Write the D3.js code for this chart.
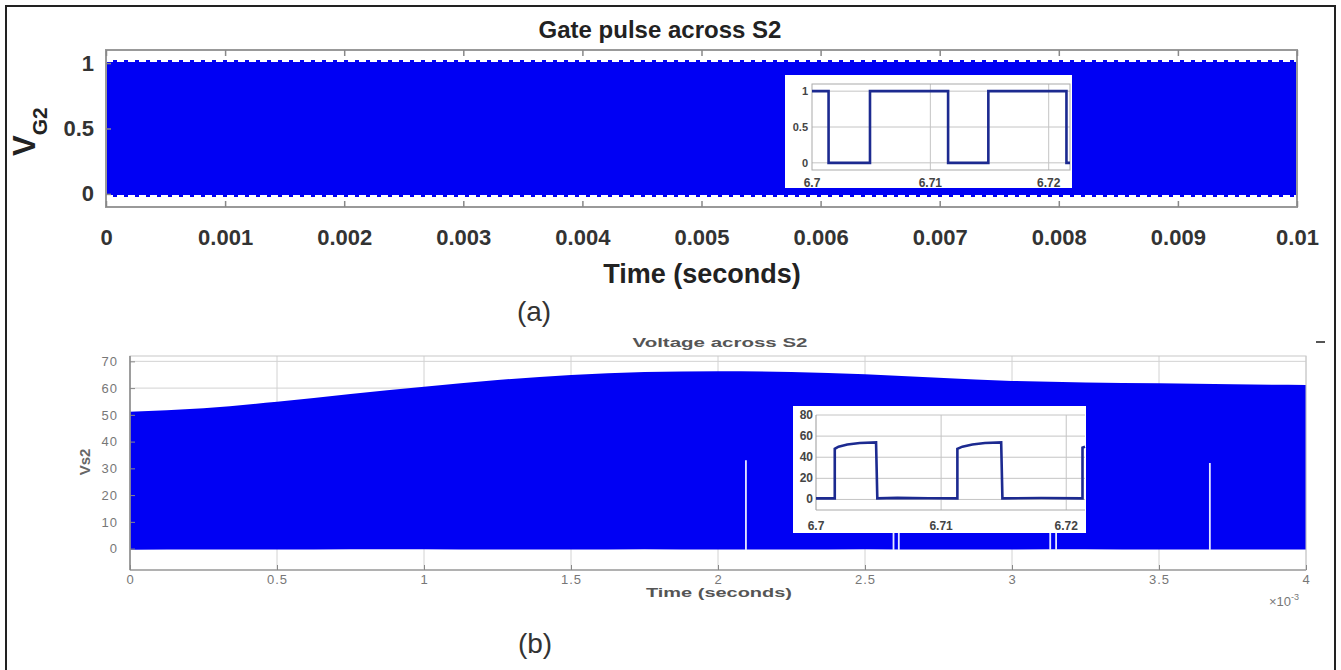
<!DOCTYPE html>
<html>
<head>
<meta charset="utf-8">
<script src="https://cdn.jsdelivr.net/npm/d3@7"></script>
<style>
  body { margin: 0; background: #fff; }
  svg { display: block; }
  text { font-family: "Liberation Sans", Arial, sans-serif; }
</style>
</head>
<body>
<div id="chart"></div>
<script>
// ---- panel (a): gate pulse across S2 ----
const gateTime = [0, 0.01];
const gateHigh = [1, 1];
const gateLow = [0, 0];
const gateXTicks = [0, 0.001, 0.002, 0.003, 0.004, 0.005, 0.006, 0.007, 0.008, 0.009, 0.01];
const gateYTicks = [0, 0.5, 1];

// zoomed gate pulse (inset a), step levels
const zoomGateT = [6.7, 6.7014, 6.7049, 6.7115, 6.7149, 6.7215, 6.7218];
const zoomGateV = [1, 0, 1, 0, 1, 0, 0];
const zoomGateXTicks = [6.7, 6.71, 6.72];
const zoomGateYTicks = [0, 0.5, 1];

// ---- panel (b): voltage across S2 (x10^-3 s) ----
const vsTime = [0, 0.25, 0.5, 0.75, 1.0, 1.25, 1.5, 1.75, 2.0, 2.25, 2.5, 2.75, 3.0, 3.25, 3.5, 3.75, 4.0];
const vsUpper = [51.2, 52.5, 54.9, 57.8, 60.5, 63.0, 64.9, 66.0, 66.3, 66.0, 65.2, 63.9, 62.7, 62.1, 61.8, 61.4, 61.2];
const vsLower = [-0.4, -0.3, -0.3, -0.2, -0.2, -0.3, -0.3, -0.2, -0.3, -0.3, -0.2, -0.3, -0.3, -0.2, -0.3, -0.3, -0.3];
const vsGapT = [2.095, 2.597, 2.615, 3.13, 3.15, 3.673];
const vsGapTop = [33, 20, 20, 20, 20, 32];
const vsXTicks = [0, 0.5, 1, 1.5, 2, 2.5, 3, 3.5, 4];
const vsYTicks = [0, 10, 20, 30, 40, 50, 60, 70];

// zoomed voltage (inset b)
const zoomVsT = [6.7, 6.7015, 6.7015, 6.7018, 6.7025, 6.7035, 6.7048, 6.7049, 6.7065, 6.709, 6.7113,
                 6.7113, 6.7117, 6.7125, 6.7135, 6.7148, 6.7149, 6.718, 6.7213, 6.7213, 6.7215];
const zoomVsV = [1, 1, 48, 50, 52, 53.5, 54, 1, 1.5, 1.2, 1,
                 48, 50, 52, 53.5, 54, 1, 1.3, 1, 49, 50];
const zoomVsXTicks = [6.7, 6.71, 6.72];
const zoomVsYTicks = [0, 20, 40, 60, 80];

const BLUE = "#0000f4";
const NAVY = "#1c2a90";

const svg = d3.select("#chart").append("svg")
    .attr("width", 1341)
    .attr("height", 670);

svg.append("rect")
    .attr("x", 6).attr("y", 6)
    .attr("width", 1329).attr("height", 680)
    .attr("fill", "none")
    .attr("stroke", "#222")
    .attr("stroke-width", 2);

// ================= panel (a) =================
const ax = d3.scaleLinear().domain([0, 0.01]).range([106, 1297]);
const ay = d3.scaleLinear().domain([-0.1, 1.1]).range([207, 50]);
const gateRows = gateTime.map((t, i) => ({ t, hi: gateHigh[i], lo: gateLow[i] }));

const pa = svg.append("g");

pa.append("path")
    .datum(gateRows)
    .attr("fill", BLUE)
    .attr("d", d3.area().x(d => ax(d.t)).y0(d => ay(d.lo) + 3).y1(d => ay(d.hi) - 3));

// scalloped edges of the dense switching waveform
[gateHigh, gateLow].forEach((lv, k) => {
    pa.append("path")
        .datum(gateTime.map((t, i) => ({ t, v: lv[i] })))
        .attr("fill", "none")
        .attr("stroke", "#fff")
        .attr("stroke-width", 2)
        .attr("stroke-dasharray", "7,4")
        .attr("d", d3.line().x(d => ax(d.t)).y(d => ay(d.v) + (k === 0 ? -2.2 : 2.2)));
    pa.append("path")
        .datum(gateTime.map((t, i) => ({ t, v: lv[i] })))
        .attr("fill", "none")
        .attr("stroke", "#fff")
        .attr("stroke-width", 1.2)
        .attr("stroke-dasharray", "4,7")
        .attr("stroke-dashoffset", -1.5)
        .attr("d", d3.line().x(d => ax(d.t)).y(d => ay(d.v) + (k === 0 ? -3.4 : 3.4)));
});

pa.append("rect")
    .attr("x", ax(0)).attr("y", ay(1.1))
    .attr("width", ax(0.01) - ax(0)).attr("height", ay(-0.1) - ay(1.1))
    .attr("fill", "none")
    .attr("stroke", "#999")
    .attr("stroke-width", 2);

pa.append("g")
    .attr("transform", `translate(0,${ay(-0.1)})`)
    .call(d3.axisBottom(ax).tickValues(gateXTicks).tickFormat(d => d).tickSizeInner(-6).tickSizeOuter(0).tickPadding(22));
pa.append("g")
    .attr("transform", `translate(0,${ay(1.1)})`)
    .call(d3.axisTop(ax).tickValues(gateXTicks).tickFormat("").tickSizeInner(-6).tickSizeOuter(0));
pa.append("g")
    .attr("transform", `translate(${ax(0)},0)`)
    .call(d3.axisLeft(ay).tickValues(gateYTicks).tickFormat(d => d).tickSizeInner(-5).tickSizeOuter(0).tickPadding(12));

pa.selectAll(".domain").remove();
pa.selectAll(".tick line").attr("stroke", "#888").attr("stroke-width", 1.5);
pa.selectAll(".tick text")
    .attr("fill", "#333")
    .style("font-size", "22px")
    .style("font-weight", "bold");

pa.append("text")
    .attr("x", 660).attr("y", 38)
    .attr("text-anchor", "middle")
    .attr("fill", "#222")
    .style("font-size", "24px")
    .style("font-weight", "bold")
    .text("Gate pulse across S2");

pa.append("text")
    .attr("x", 702).attr("y", 283)
    .attr("text-anchor", "middle")
    .attr("fill", "#222")
    .style("font-size", "27px")
    .style("font-weight", "bold")
    .text("Time (seconds)");

const aYLabel = pa.append("text")
    .attr("transform", "translate(35,156) rotate(-90)")
    .attr("fill", "#222")
    .style("font-weight", "bold");
aYLabel.append("tspan").style("font-size", "31px").text("V");
aYLabel.append("tspan").attr("dy", 12).style("font-size", "21px").text("G2");

pa.append("text")
    .attr("x", 534).attr("y", 321)
    .attr("text-anchor", "middle")
    .attr("fill", "#333")
    .style("font-size", "28px")
    .text("(a)");

// inset (a)
const iax = d3.scaleLinear().domain([6.7, 6.7218]).range([812, 1070]);
const iay = d3.scaleLinear().domain([-0.1, 1.1]).range([170, 84]);
const ia = svg.append("g");
ia.append("rect")
    .attr("x", 785).attr("y", 75).attr("width", 287).attr("height", 113)
    .attr("fill", "#fff");
ia.append("g").selectAll("line")
    .data(zoomGateYTicks).join("line")
    .attr("x1", iax(6.7)).attr("x2", iax(6.7218))
    .attr("y1", d => iay(d)).attr("y2", d => iay(d))
    .attr("stroke", "#c4c4c4");
ia.append("g").selectAll("line")
    .data(zoomGateXTicks.slice(1)).join("line")
    .attr("x1", d => iax(d)).attr("x2", d => iax(d))
    .attr("y1", iay(1.1)).attr("y2", iay(-0.1))
    .attr("stroke", "#c4c4c4");
ia.append("rect")
    .attr("x", iax(6.7)).attr("y", iay(1.1))
    .attr("width", iax(6.7218) - iax(6.7)).attr("height", iay(-0.1) - iay(1.1))
    .attr("fill", "none").attr("stroke", "#aaa");
ia.append("path")
    .datum(zoomGateT.map((t, i) => ({ t, v: zoomGateV[i] })))
    .attr("fill", "none")
    .attr("stroke", NAVY)
    .attr("stroke-width", 2.6)
    .attr("d", d3.line().curve(d3.curveStepAfter).x(d => iax(d.t)).y(d => iay(d.v)));
ia.append("g").selectAll("text")
    .data(zoomGateYTicks).join("text")
    .attr("x", 808).attr("y", d => iay(d) + 4)
    .attr("text-anchor", "end")
    .attr("fill", "#444")
    .style("font-size", "11px").style("font-weight", "bold")
    .text(d => d);
ia.append("g").selectAll("text")
    .data(zoomGateXTicks).join("text")
    .attr("x", d => iax(d)).attr("y", 187)
    .attr("text-anchor", "middle")
    .attr("fill", "#444")
    .style("font-size", "12px").style("font-weight", "bold")
    .text(d => d);

// ================= panel (b) =================
const bx = d3.scaleLinear().domain([0, 4]).range([130, 1306]);
const by = d3.scaleLinear().domain([-8, 72]).range([570, 356]);
const vsRows = vsTime.map((t, i) => ({ t, hi: vsUpper[i], lo: vsLower[i] }));

const pb = svg.append("g");

pb.append("g").selectAll("line")
    .data(vsXTicks).join("line")
    .attr("x1", d => bx(d)).attr("x2", d => bx(d))
    .attr("y1", by(72)).attr("y2", by(-8))
    .attr("stroke", "#d2d2d2");
pb.append("g").selectAll("line")
    .data(vsYTicks).join("line")
    .attr("x1", bx(0)).attr("x2", bx(4))
    .attr("y1", d => by(d)).attr("y2", d => by(d))
    .attr("stroke", "#d2d2d2");

pb.append("path")
    .datum(vsRows)
    .attr("fill", BLUE)
    .attr("d", d3.area().curve(d3.curveMonotoneX).x(d => bx(d.t)).y0(d => by(d.lo)).y1(d => by(d.hi)));

pb.append("g").selectAll("line")
    .data(vsGapT).join("line")
    .attr("x1", d => bx(d)).attr("x2", d => bx(d))
    .attr("y1", by(-0.5)).attr("y2", (d, i) => by(vsGapTop[i]))
    .attr("stroke", "#e4e6ff")
    .attr("stroke-width", 1.8);

pb.append("rect")
    .attr("x", bx(0)).attr("y", by(72))
    .attr("width", bx(4) - bx(0)).attr("height", by(-8) - by(72))
    .attr("fill", "none").attr("stroke", "#c8c8c8");
pb.append("line")
    .attr("x1", bx(0)).attr("x2", bx(0)).attr("y1", by(72)).attr("y2", by(-8))
    .attr("stroke", "#8a8a8a").attr("stroke-width", 1.5);
pb.append("line")
    .attr("x1", bx(0)).attr("x2", bx(4)).attr("y1", by(-8)).attr("y2", by(-8))
    .attr("stroke", "#a0a0a0").attr("stroke-width", 1.5);

pb.append("g")
    .attr("transform", `translate(0,${by(-8)})`)
    .call(d3.axisBottom(bx).tickValues(vsXTicks).tickFormat(d => d).tickSizeInner(-5).tickSizeOuter(0).tickPadding(5));
pb.append("g")
    .attr("transform", `translate(${bx(0)},0)`)
    .call(d3.axisLeft(by).tickValues(vsYTicks).tickFormat(d => d).tickSizeInner(-5).tickSizeOuter(0).tickPadding(12));
pb.selectAll(".domain").remove();
pb.selectAll(".tick line").attr("stroke", "#888");
pb.selectAll(".tick text")
    .attr("fill", "#777")
    .style("font-size", "13px")
    .attr("letter-spacing", "1px");

pb.append("text")
    .attr("x", 720).attr("y", 347)
    .attr("text-anchor", "middle")
    .attr("fill", "#555")
    .attr("textLength", 175).attr("lengthAdjust", "spacingAndGlyphs")
    .style("font-size", "13px").style("font-weight", "bold")
    .text("Voltage across S2");

pb.append("text")
    .attr("x", 719).attr("y", 597)
    .attr("text-anchor", "middle")
    .attr("fill", "#555")
    .attr("textLength", 146).attr("lengthAdjust", "spacingAndGlyphs")
    .style("font-size", "13px").style("font-weight", "bold")
    .text("Time (seconds)");

pb.append("text")
    .attr("transform", "translate(90,462) rotate(-90)")
    .attr("text-anchor", "middle")
    .attr("fill", "#666")
    .style("font-size", "15px").style("font-weight", "bold")
    .text("Vs2");

const expo = pb.append("text")
    .attr("x", 1284).attr("y", 606)
    .attr("text-anchor", "middle")
    .attr("fill", "#777")
    .style("font-size", "13px");
expo.append("tspan").text("\u00d710");
expo.append("tspan").attr("dy", -6).style("font-size", "9px").text("-3");

pb.append("line")
    .attr("x1", 1316).attr("x2", 1325).attr("y1", 342).attr("y2", 342)
    .attr("stroke", "#555").attr("stroke-width", 2);

pb.append("text")
    .attr("x", 535).attr("y", 653)
    .attr("text-anchor", "middle")
    .attr("fill", "#333")
    .style("font-size", "28px")
    .text("(b)");

// inset (b)
const ibx = d3.scaleLinear().domain([6.7, 6.7215]).range([816, 1085]);
const iby = d3.scaleLinear().domain([-10, 80]).range([510, 415]);
const ib = svg.append("g");
ib.append("rect")
    .attr("x", 793).attr("y", 406).attr("width", 293).attr("height", 127)
    .attr("fill", "#fff");
ib.append("g").selectAll("line")
    .data(zoomVsYTicks).join("line")
    .attr("x1", ibx(6.7)).attr("x2", ibx(6.7215))
    .attr("y1", d => iby(d)).attr("y2", d => iby(d))
    .attr("stroke", "#c4c4c4");
ib.append("g").selectAll("line")
    .data(zoomVsXTicks.slice(1)).join("line")
    .attr("x1", d => ibx(d)).attr("x2", d => ibx(d))
    .attr("y1", iby(80)).attr("y2", iby(-10))
    .attr("stroke", "#c4c4c4");
ib.append("line")
    .attr("x1", ibx(6.7)).attr("x2", ibx(6.7)).attr("y1", iby(80)).attr("y2", iby(-10))
    .attr("stroke", "#999");
ib.append("line")
    .attr("x1", ibx(6.7)).attr("x2", ibx(6.7215)).attr("y1", iby(-10)).attr("y2", iby(-10))
    .attr("stroke", "#aaa");
ib.append("path")
    .datum(zoomVsT.map((t, i) => ({ t, v: zoomVsV[i] })))
    .attr("fill", "none")
    .attr("stroke", NAVY)
    .attr("stroke-width", 2.6)
    .attr("d", d3.line().x(d => ibx(d.t)).y(d => iby(d.v)));
ib.append("g").selectAll("text")
    .data(zoomVsYTicks).join("text")
    .attr("x", 813).attr("y", d => iby(d) + 4)
    .attr("text-anchor", "end")
    .attr("fill", "#444")
    .style("font-size", "12px").style("font-weight", "bold")
    .text(d => d);
ib.append("g").selectAll("text")
    .data(zoomVsXTicks).join("text")
    .attr("x", d => ibx(d)).attr("y", 530)
    .attr("text-anchor", "middle")
    .attr("fill", "#444")
    .style("font-size", "12px").style("font-weight", "bold")
    .text(d => d);
</script>
</body>
</html>
